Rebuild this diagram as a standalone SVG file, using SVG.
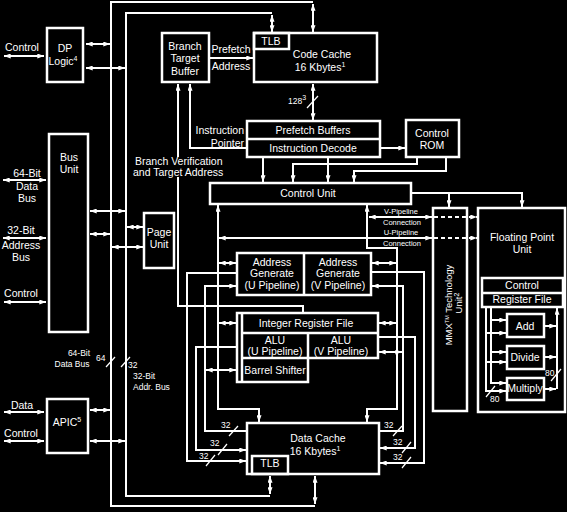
<svg xmlns="http://www.w3.org/2000/svg" width="567" height="512" viewBox="0 0 567 512">
<defs>
<marker id="a" viewBox="0 0 8 6" refX="8" refY="3" markerWidth="7" markerHeight="5" markerUnits="userSpaceOnUse" orient="auto-start-reverse"><path d="M0,0L8,3L0,6z" fill="#fff"/></marker>
<style>
text{font-family:"Liberation Sans",Arial,Helvetica,sans-serif;font-size:10.5px;fill:#fff}
.m{text-anchor:middle}
.r{text-anchor:end}
.s{font-size:7.5px}
.n{font-size:8.5px}
.u{font-size:7px}
.b{fill:none;stroke:#fff;stroke-width:2.5}
.l{fill:none;stroke:#fff;stroke-width:2}
.t{fill:none;stroke:#fff;stroke-width:1.2}
.d{marker-start:url(#a);marker-end:url(#a)}
.e{marker-end:url(#a)}
.dash{stroke-dasharray:4 3}
</style>
</defs>
<rect width="567" height="512" fill="#000"/>

<g id="connectors">
  <path class="l" d="M313,2 H111 V506 H315"/>
  <path class="l" d="M272,13 H126 V496 H270"/>
  <path class="l d" d="M313,4 V32"/>
  <path class="l d" d="M272,15 V32"/>
  <path class="l d" d="M315,504 V476"/>
  <path class="l d" d="M270,494 V476"/>
  <path class="l d" d="M4,56 H44"/>
  <path class="l d" d="M3,180 H46"/>
  <path class="l d" d="M3,238 H46"/>
  <path class="l d" d="M4,302 H46"/>
  <path class="l d" d="M4,412 H44"/>
  <path class="l d" d="M4,441 H44"/>
  <path class="l d" d="M86,44 H110"/>
  <path class="l d" d="M86,68 H125"/>
  <path class="l d" d="M90,211 H125"/>
  <path class="l d" d="M90,234 H110"/>
  <path class="l d" d="M127,227 H143"/>
  <path class="l d" d="M112,247 H143"/>
  <path class="l d" d="M90,410 H110"/>
  <path class="l d" d="M90,441 H125"/>
  <path class="l e" d="M178,157 V84"/>
  <path class="l" d="M178,177 V306 H303 V313"/>
  <path class="l e" d="M247,148 H190 V84"/>
  <path class="l e" d="M209,58 H253"/>
  <path class="l d" d="M313,84 V120"/>
  <path class="t" d="M307,108 L318,96"/>
  <path class="l e" d="M380,148 H405"/>
  <path class="l e" d="M263,158 V182"/>
  <path class="l e" d="M328,158 V182"/>
  <path class="l e" d="M417,158 V164 H293 V182"/>
  <path class="l e" d="M446,158 V171 H354 V182"/>
  <path class="l e" d="M411,193 H522 V207"/>
  <path class="l e" d="M449,193 V207"/>
  <path class="l d" d="M369,217 H432"/>
  <path class="l e dash" d="M434,217 H477"/>
  <path class="l d" d="M219,238 H432"/>
  <path class="l e dash" d="M434,238 H477"/>
  <path class="l d" d="M218,205 V409 H259 V422"/>
  <path class="l d" d="M367,205 V248 H397 V409 H367 V422"/>
  <path class="l d" d="M219,263 H236"/>
  <path class="l d" d="M219,323 H236"/>
  <path class="l d" d="M206,370 H236"/>
  <path class="l d" d="M372,263 H396"/>
  <path class="l d" d="M379,323 H396"/>
  <path class="l d" d="M379,352 H402"/>
  <path class="l e" d="M237,273 H187 V461 H246"/>
  <path class="l e" d="M237,347 H196 V450 H246"/>
  <path class="l e" d="M247,431 H205 V286 H236"/>
  <path class="l e" d="M371,272 H424 V463 H380"/>
  <path class="l e" d="M378,337 H415 V448 H380"/>
  <path class="l e" d="M379,431 H403 V286 H372"/>
  <path class="t" d="M229,436 L238,426"/>
  <path class="t" d="M218,455 L227,444"/>
  <path class="t" d="M206,466 L215,455"/>
  <path class="t" d="M393,436 L402,426"/>
  <path class="t" d="M402,453 L411,442"/>
  <path class="t" d="M402,468 L411,457"/>
  <path class="t" d="M106,367 L115,357"/>
  <path class="t" d="M121,367 L130,357"/>
  <path class="l e" d="M486,308 V391 H506"/>
  <path class="l e" d="M486,333 H506"/>
  <path class="l e" d="M486,362 H506"/>
  <path class="l e" d="M491,308 V383 H506"/>
  <path class="l e" d="M491,320 H506"/>
  <path class="l e" d="M491,352 H506"/>
  <path class="l e" d="M545,326 H556"/>
  <path class="l e" d="M545,357 H556"/>
  <path class="l e" d="M545,389 H556"/>
  <path class="l e" d="M557,389 V308"/>
  <path class="t" d="M551,381 L561,369"/>
  <path class="t" d="M486,397 L495,386"/>
</g>

<text x="5" y="51">Control</text>
<text class="m" x="27" y="177">64-Bit</text>
<text class="m" x="27" y="190">Data</text>
<text class="m" x="27" y="202">Bus</text>
<text class="m" x="21" y="234">32-Bit</text>
<text class="m" x="21" y="249">Address</text>
<text class="m" x="21" y="261">Bus</text>
<text class="m" x="21" y="297">Control</text>
<text class="m" x="22" y="409">Data</text>
<text class="m" x="21" y="437">Control</text>
<text class="m n" x="79" y="356">64-Bit</text>
<text class="m n" x="72" y="367">Data Bus</text>
<text class="n" x="96" y="361">64</text>
<text class="n" x="128" y="368">32</text>
<text class="n" x="133" y="379">32-Bit</text>
<text class="n" x="133" y="390">Addr. Bus</text>
<text class="m" x="231" y="53">Prefetch</text>
<text class="m" x="231" y="70">Address</text>
<text class="r" x="244" y="134">Instruction</text>
<text class="r" x="244" y="147">Pointer</text>
<text x="135" y="165">Branch Verification</text>
<text x="133" y="176">and Target Address</text>
<text class="n" x="288" y="104">128<tspan class="u" dy="-4">3</tspan></text>
<text class="m s" x="401" y="214">V-Pipeline</text>
<text class="m s" x="402" y="225">Connection</text>
<text class="m s" x="401" y="235">U-Pipeline</text>
<text class="m s" x="402" y="246">Connection</text>
<text class="n" x="221" y="428">32</text>
<text class="n" x="210" y="446">32</text>
<text class="n" x="199" y="459">32</text>
<text class="n" x="384" y="428">32</text>
<text class="n" x="393" y="445">32</text>
<text class="n" x="393" y="460">32</text>
<text class="n" x="545" y="376">80</text>
<text class="n" x="490" y="402">80</text>

<g id="dp-logic">
  <rect class="b" x="47" y="28" width="36" height="54"/>
  <text class="m" x="65" y="52">DP</text>
  <text class="m" x="63" y="65">Logic<tspan class="u" dy="-4">4</tspan></text>
</g>
<g id="bus-unit">
  <rect class="b" x="49" y="134" width="39" height="198"/>
  <text class="m" x="69" y="161">Bus</text>
  <text class="m" x="69" y="173">Unit</text>
</g>
<g id="apic">
  <rect class="b" x="47" y="399" width="41" height="54"/>
  <text class="m" x="67" y="426">APIC<tspan class="u" dy="-4">5</tspan></text>
</g>
<g id="page-unit">
  <rect class="b" x="144" y="213" width="30" height="55"/>
  <text class="m" x="159" y="236">Page</text>
  <text class="m" x="159" y="248">Unit</text>
</g>
<g id="branch-target-buffer">
  <rect class="b" x="162" y="33" width="47" height="49"/>
  <text class="m" x="185" y="50">Branch</text>
  <text class="m" x="185" y="62">Target</text>
  <text class="m" x="185" y="75">Buffer</text>
</g>
<g id="code-cache">
  <rect class="b" x="254" y="33" width="123" height="49"/>
  <rect class="b" x="254" y="33" width="35" height="16"/>
  <text class="m" x="271" y="45">TLB</text>
  <text class="m" x="322" y="58">Code Cache</text>
  <text class="m" x="320" y="71">16 Kbytes<tspan class="u" dy="-4">1</tspan></text>
</g>
<g id="prefetch-decode">
  <rect class="b" x="247" y="121" width="133" height="36"/>
  <line class="b" x1="247" y1="139" x2="380" y2="139"/>
  <text class="m" x="313" y="134">Prefetch Buffers</text>
  <text class="m" x="313" y="152">Instruction Decode</text>
</g>
<g id="control-rom">
  <rect class="b" x="406" y="120" width="53" height="37"/>
  <text class="m" x="432" y="137">Control</text>
  <text class="m" x="432" y="149">ROM</text>
</g>
<g id="control-unit">
  <rect class="b" x="210" y="183" width="201" height="21"/>
  <text class="m" x="308" y="197">Control Unit</text>
</g>
<g id="address-generate">
  <rect class="b" x="237" y="253" width="134" height="42"/>
  <line class="b" x1="304" y1="253" x2="304" y2="295"/>
  <text class="m" x="272" y="266">Address</text>
  <text class="m" x="272" y="277">Generate</text>
  <text class="m" x="272" y="289">(U Pipeline)</text>
  <text class="m" x="338" y="266">Address</text>
  <text class="m" x="338" y="277">Generate</text>
  <text class="m" x="338" y="289">(V Pipeline)</text>
</g>
<g id="integer-unit">
  <path class="b" d="M237,313 H378 V358 H308 V382 H237 Z"/>
  <line class="b" x1="242" y1="313" x2="242" y2="382"/>
  <line class="b" x1="242" y1="333" x2="378" y2="333"/>
  <line class="b" x1="242" y1="358" x2="308" y2="358"/>
  <line class="b" x1="308" y1="333" x2="308" y2="358"/>
  <text class="m" x="306" y="327">Integer Register File</text>
  <text class="m" x="275" y="344">ALU</text>
  <text class="m" x="275" y="355">(U Pipeline)</text>
  <text class="m" x="341" y="344">ALU</text>
  <text class="m" x="341" y="355">(V Pipeline)</text>
  <text class="m" x="275" y="374">Barrel Shifter</text>
</g>
<g id="data-cache">
  <rect class="b" x="247" y="423" width="132" height="51"/>
  <rect class="b" x="252" y="456" width="36" height="18"/>
  <text class="m" x="318" y="442">Data Cache</text>
  <text class="m" x="315" y="455">16 Kbytes<tspan class="u" dy="-4">1</tspan></text>
  <text class="m" x="270" y="467">TLB</text>
</g>
<g id="mmx-unit">
  <rect class="b" x="433" y="208" width="34" height="203"/>
  <text class="m" style="font-size:9.5px" transform="translate(452,305) rotate(-90)">MMX<tspan style="font-size:5.5px" dy="-3">TM</tspan><tspan dy="3"> Technology</tspan></text>
  <text class="m" style="font-size:9.5px" transform="translate(462,303) rotate(-90)">Unit<tspan class="u" dy="-3">2</tspan></text>
</g>
<g id="fpu">
  <rect class="b" x="478" y="208" width="87" height="204"/>
  <text class="m" x="522" y="241">Floating Point</text>
  <text class="m" x="522" y="253">Unit</text>
  <rect class="b" x="482" y="278" width="81" height="29"/>
  <line class="b" x1="482" y1="293" x2="563" y2="293"/>
  <text class="m" x="522" y="289">Control</text>
  <text class="m" x="522" y="303">Register File</text>
  <rect class="b" x="507" y="314" width="37" height="23"/>
  <text class="m" x="525" y="330">Add</text>
  <rect class="b" x="507" y="346" width="37" height="23"/>
  <text class="m" x="525" y="361">Divide</text>
  <rect class="b" x="507" y="378" width="37" height="22"/>
  <text class="m" x="525" y="392">Multiply</text>
</g>
</svg>
